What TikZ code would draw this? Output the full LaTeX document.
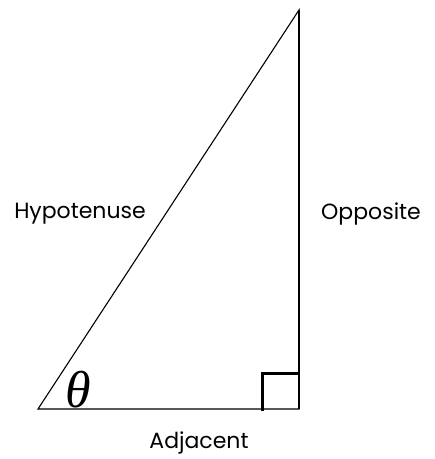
\documentclass[tikz,border=0pt]{standalone}
\usepackage{fontspec}
\setmainfont{Poppins}
\newfontfamily\greekfont{Liberation Serif}
\usetikzlibrary{positioning}

\begin{document}
\begin{tikzpicture}[
  x=1pt, y=-1pt,
  side/.style={draw, line width=1.1pt},
  label/.style={font=\fontsize{22}{25}\selectfont, inner sep=0pt},
  corner/.style={draw, line width=3pt}
]
  \useasboundingbox (0,0) rectangle (435,459);
  \coordinate (a) at (38,409);
  \coordinate (b) at (299,409);
  \coordinate (c) at (299,10);
  \draw[side] (a) -- (b) -- (c) -- cycle;
  \draw[line width=1.4pt] (b) -- (c);
  \coordinate (sq1) at (262,411);
  \coordinate (sq2) at (262,373);
  \coordinate (sq3) at (300,373);
  \draw[corner] (sq1) -- (sq2) -- (sq3);
  \node[font=\greekfont\itshape\fontsize{52}{52}\selectfont, inner sep=0pt] (theta) at (78,390) {θ};
  \node[label] (hyp) at (80,214) {Hypotenuse};
  \node[label] (opp) at (371,214) {Opposite};
  \node[label] (adj) at (199,443) {Adjacent};
\end{tikzpicture}
\end{document}
